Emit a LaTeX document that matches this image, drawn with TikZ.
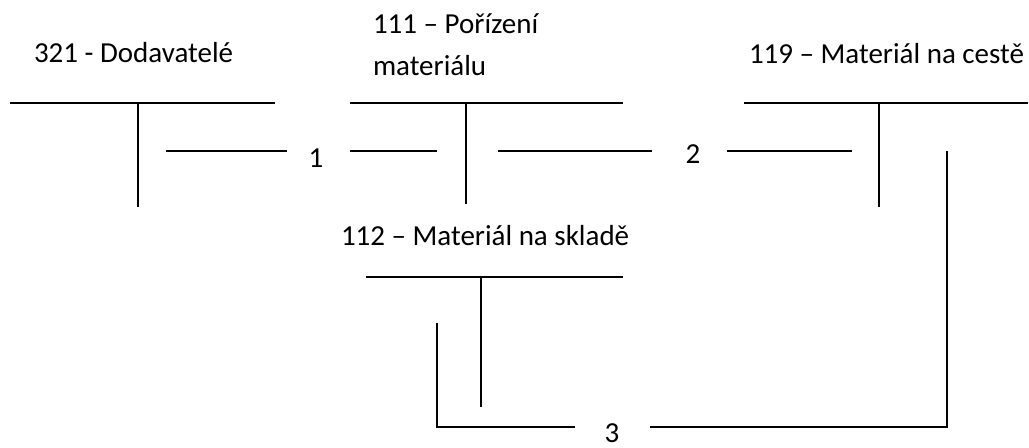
\documentclass[tikz,border=0pt]{standalone}
\usepackage{fontspec}
\setmainfont{Carlito}

\begin{document}
\begin{tikzpicture}[x=0.5pt, y=-0.5pt, line width=1pt,
    ucet/.style={anchor=base west, inner sep=0pt, align=left,
                 font=\fontsize{14.5}{21}\selectfont},
    cislo/.style={anchor=base, inner sep=0pt,
                  font=\fontsize{14.5}{21}\selectfont}]
            \useasboundingbox (0,0) rectangle (1029,447);

            % Názvy účtů
            \node[ucet] (dodavatele) at (33,62) {321 - Dodavatelé};
            \node[ucet] (porizeni) at (372,75) {111 – Pořízení\\materiálu};
            \node[ucet] (cesta) at (748,63) {119 – Materiál na cestě};
            \node[ucet] (sklad) at (340,245) {112 – Materiál na skladě};

            % T-konta
            \foreach \l/\r/\m/\t/\b in {10/275/138/103/207, 350/623/466/103/204,
                                        744/1028/879/103/207, 366/623/481/277/407} {
                \draw (\l,\t) -- (\r,\t);
                \draw (\m,\t) -- (\m,\b);
            }

            % Čísla operací
            \node[cislo] (op1) at (316,167) {1};
            \node[cislo] (op2) at (693,163) {2};
            \node[cislo] (op3) at (612,442) {3};

            % Zaúčtování 1
            \coordinate (z1a) at (166,151);
            \coordinate (z1b) at (287,151);
            \coordinate (z1c) at (350,151);
            \coordinate (z1d) at (437,151);
            \draw (z1a) -- (z1b);
            \draw (z1c) -- (z1d);

            % Zaúčtování 2
            \coordinate (z2a) at (498,151);
            \coordinate (z2b) at (652,151);
            \coordinate (z2c) at (727,151);
            \coordinate (z2d) at (852,151);
            \draw (z2a) -- (z2b);
            \draw (z2c) -- (z2d);

            % Zaúčtování 3
            \coordinate (z3a) at (437,323);
            \coordinate (z3b) at (575,427);
            \coordinate (z3c) at (650,427);
            \coordinate (z3d) at (947,151);
            \draw (z3a) |- (z3b);
            \draw (z3c) -| (z3d);
        \end{tikzpicture}
\end{document}
